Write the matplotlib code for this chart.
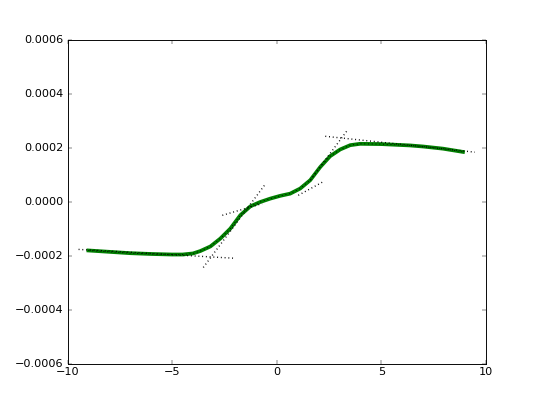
import matplotlib
matplotlib.use('Agg')
import matplotlib.pyplot as plt

plt.style.use('classic')

# measured curve (x, y)
x = [-9.0, -8.0, -7.0, -6.0, -5.0, -4.5, -4.0, -3.65, -3.17, -2.70, -2.22,
     -1.74, -1.26, -0.79, -0.31, 0.17, 0.64, 1.12, 1.60, 2.08, 2.55, 3.03,
     3.51, 3.98, 5.0, 6.37, 7.0, 7.95, 8.9]
y = [-0.000180, -0.000185, -0.000190, -0.000193, -0.000195, -0.000195,
     -0.000191, -0.000182, -0.000165, -0.000136, -0.000099, -0.000049,
     -0.000016, 0.000000, 0.0000126, 0.000023, 0.000031, 0.000050,
     0.000081, 0.000130, 0.000170, 0.000195, 0.000211, 0.000216, 0.000215,
     0.000210, 0.000206, 0.000198, 0.000186]

# tangent lines: (x0, x1), (y0, y1)
tangents = [
    ((-9.47, -1.98), (-0.000176, -0.000209)),
    ((-3.51, -0.55), (-0.000243, 0.0000658)),
    ((-2.60, -0.70), (-0.0000494, -0.0000060)),
    ((1.03, 2.17), (0.0000249, 0.0000732)),
    ((1.60, 3.41), (0.0000805, 0.000270)),
    ((2.32, 9.47), (0.000244, 0.000185)),
]

fig, ax = plt.subplots(figsize=(8, 404 / 67.5), dpi=67.5)
fig.patch.set_facecolor('white')

ax.plot(x, y, '-', color='green', lw=4)
ax.plot(x, y, 'k:', lw=1)
for tx, ty in tangents:
    ax.plot(tx, ty, 'k:', lw=1.5)

ax.set_xlim(-10, 10)
ax.set_ylim(-0.0006, 0.0006)
ax.set_yticks([-0.0006, -0.0004, -0.0002, 0.0, 0.0002, 0.0004, 0.0006])

fig.savefig('out.png', dpi=67.5, facecolor='white')
